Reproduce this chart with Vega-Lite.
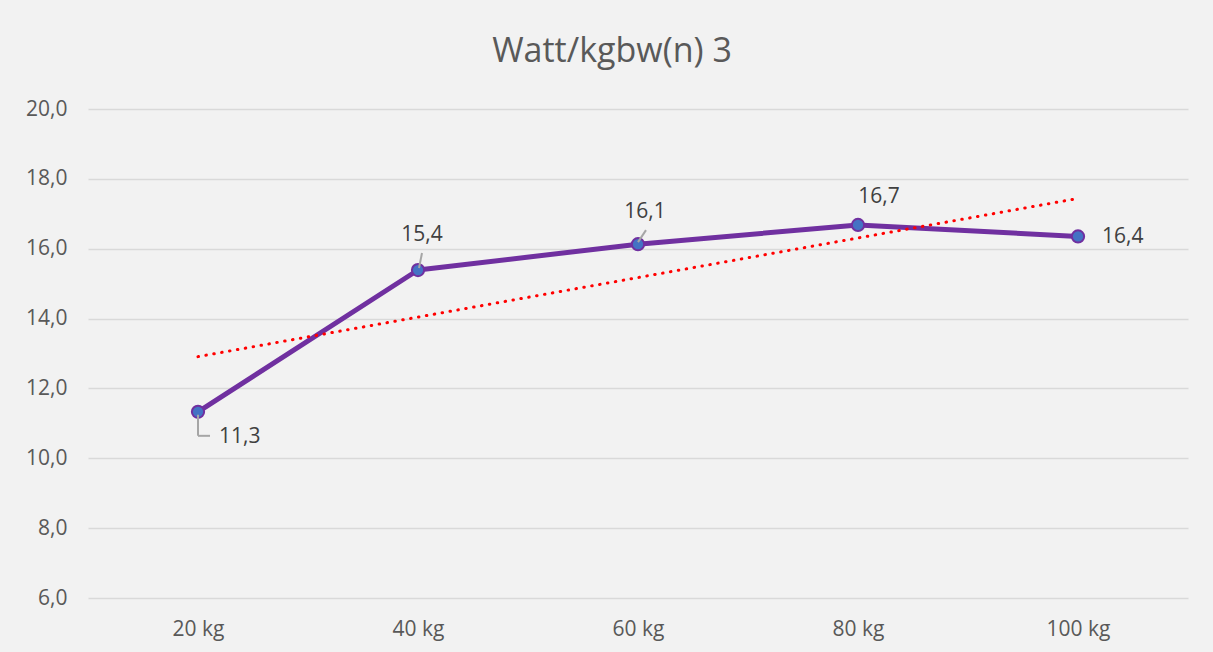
{
  "$schema": "https://vega.github.io/schema/vega-lite/v6.json",
  "width": 1100,
  "height": 489,
  "autosize": {"type": "none"},
  "padding": {"left": 88, "top": 109, "right": 25, "bottom": 54},
  "background": "#f2f2f2",
  "title": {
    "text": "Watt/kgbw(n) 3",
    "font": "Open Sans",
    "fontSize": 34,
    "fontWeight": "normal",
    "color": "#595959",
    "anchor": "middle",
    "baseline": "alphabetic",
    "offset": 42,
    "dx": -26,
    "dy": 40
  },
  "datasets": {
    "series": [
      {"cat": "20 kg", "value": 11.33, "label": "11,3"},
      {"cat": "40 kg", "value": 15.39, "label": "15,4"},
      {"cat": "60 kg", "value": 16.13, "label": "16,1"},
      {"cat": "80 kg", "value": 16.68, "label": "16,7"},
      {"cat": "100 kg", "value": 16.35, "label": "16,4"}
    ],
    "trend": [
      {"cat": "20 kg", "trend": 12.91},
      {"cat": "100 kg", "trend": 17.44}
    ]
  },
  "config": {
    "view": {"stroke": null},
    "font": "Open Sans"
  },
  "encoding": {
    "x": {
      "field": "cat",
      "type": "ordinal",
      "sort": ["20 kg", "40 kg", "60 kg", "80 kg", "100 kg"],
      "scale": {"type": "point", "padding": 0.5, "domain": ["20 kg", "40 kg", "60 kg", "80 kg", "100 kg"]},
      "axis": {
        "title": null,
        "labelAngle": 0,
        "labelFont": "Open Sans",
        "labelFontSize": 21,
        "labelColor": "#595959",
        "labelPadding": 20,
        "ticks": false,
        "domain": false,
        "grid": false
      }
    }
  },
  "layer": [
    {
      "data": {"name": "series"},
      "mark": {"type": "rule", "opacity": 0},
      "encoding": {
        "y": {
          "field": "value",
          "type": "quantitative",
          "scale": {"domain": [6, 20], "nice": false, "zero": false},
          "axis": {
            "title": null,
            "values": [6, 8, 10, 12, 14, 16, 18, 20],
            "labelExpr": "replace(format(datum.value, '.1f'), '.', ',')",
            "labelFont": "Open Sans",
            "labelFontSize": 21,
            "labelColor": "#595959",
            "labelPadding": 21,
            "ticks": false,
            "domain": false,
            "gridColor": "#d9d9d9",
            "gridWidth": 1.5
          }
        }
      }
    },
    {
      "data": {"name": "series"},
      "mark": {"type": "line", "color": "#7030a0", "strokeWidth": 5, "strokeJoin": "round", "strokeCap": "round"},
      "encoding": {
        "y": {"field": "value", "type": "quantitative"}
      }
    },
    {
      "data": {"name": "trend"},
      "mark": {"type": "line", "color": "#ff0000", "strokeWidth": 3, "strokeDash": [0.5, 7.5], "strokeCap": "round"},
      "encoding": {
        "y": {"field": "trend", "type": "quantitative"}
      }
    },
    {
      "data": {"name": "series"},
      "mark": {"type": "point", "filled": true, "fill": "#4472c4", "stroke": "#7030a0", "strokeWidth": 2, "size": 150, "opacity": 1, "shape": "circle"},
      "encoding": {
        "y": {"field": "value", "type": "quantitative"}
      }
    },
    {
      "data": {"name": "series"},
      "transform": [{"filter": "datum.cat == '20 kg'"}],
      "mark": {"type": "rule", "color": "#a6a6a6", "strokeWidth": 2, "yOffset": 3, "y2Offset": 24},
      "encoding": {
        "y": {"field": "value", "type": "quantitative"},
        "y2": {"field": "value"}
      }
    },
    {
      "data": {"name": "series"},
      "transform": [{"filter": "datum.cat == '20 kg'"}],
      "mark": {"type": "rule", "color": "#a6a6a6", "strokeWidth": 2, "yOffset": 24, "y2Offset": 24, "xOffset": 0, "x2Offset": 12},
      "encoding": {
        "y": {"field": "value", "type": "quantitative"},
        "y2": {"field": "value"},
        "x2": {"field": "cat"}
      }
    },
    {
      "data": {"name": "series"},
      "transform": [{"filter": "datum.cat == '40 kg'"}],
      "mark": {"type": "rule", "color": "#a6a6a6", "strokeWidth": 2, "xOffset": 1, "yOffset": -2, "x2Offset": 4, "y2Offset": -17},
      "encoding": {
        "y": {"field": "value", "type": "quantitative"},
        "y2": {"field": "value"},
        "x2": {"field": "cat"}
      }
    },
    {
      "data": {"name": "series"},
      "transform": [{"filter": "datum.cat == '60 kg'"}],
      "mark": {"type": "rule", "color": "#a6a6a6", "strokeWidth": 2, "xOffset": 0, "yOffset": -2, "x2Offset": 8, "y2Offset": -14},
      "encoding": {
        "y": {"field": "value", "type": "quantitative"},
        "y2": {"field": "value"},
        "x2": {"field": "cat"}
      }
    },
    {
      "data": {"name": "series"},
      "transform": [{"filter": "datum.cat == '20 kg'"}],
      "mark": {"type": "text", "align": "left", "baseline": "middle", "dx": 21, "dy": 25, "fontSize": 21, "color": "#404040"},
      "encoding": {
        "y": {"field": "value", "type": "quantitative"},
        "text": {"field": "label"}
      }
    },
    {
      "data": {"name": "series"},
      "transform": [{"filter": "datum.cat == '40 kg'"}],
      "mark": {"type": "text", "align": "center", "baseline": "middle", "dx": 4, "dy": -35, "fontSize": 21, "color": "#404040"},
      "encoding": {
        "y": {"field": "value", "type": "quantitative"},
        "text": {"field": "label"}
      }
    },
    {
      "data": {"name": "series"},
      "transform": [{"filter": "datum.cat == '60 kg'"}],
      "mark": {"type": "text", "align": "center", "baseline": "middle", "dx": 7, "dy": -32, "fontSize": 21, "color": "#404040"},
      "encoding": {
        "y": {"field": "value", "type": "quantitative"},
        "text": {"field": "label"}
      }
    },
    {
      "data": {"name": "series"},
      "transform": [{"filter": "datum.cat == '80 kg'"}],
      "mark": {"type": "text", "align": "center", "baseline": "middle", "dx": 21, "dy": -28, "fontSize": 21, "color": "#404040"},
      "encoding": {
        "y": {"field": "value", "type": "quantitative"},
        "text": {"field": "label"}
      }
    },
    {
      "data": {"name": "series"},
      "transform": [{"filter": "datum.cat == '100 kg'"}],
      "mark": {"type": "text", "align": "left", "baseline": "middle", "dx": 24, "dy": 1, "fontSize": 21, "color": "#404040"},
      "encoding": {
        "y": {"field": "value", "type": "quantitative"},
        "text": {"field": "label"}
      }
    }
  ]
}
